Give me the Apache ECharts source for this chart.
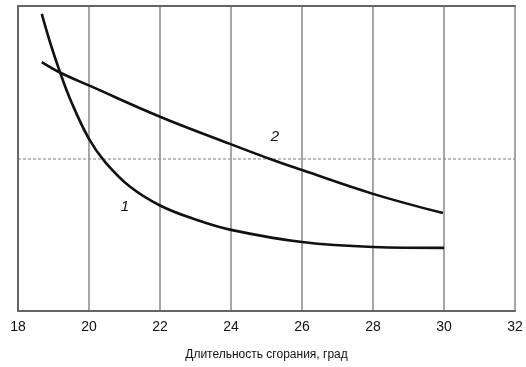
<!DOCTYPE html>
<html>
<head>
<meta charset="utf-8">
<script src="https://cdn.jsdelivr.net/npm/echarts@6/dist/echarts.min.js"></script>
<style>
html,body{margin:0;padding:0;background:#fff;}
#c{width:526px;height:367px;}
</style>
</head>
<body>
<div id="c"></div>
<script>
// x-axis ticks
const xTicks = [18, 20, 22, 24, 26, 28, 30, 32];
const xAxisName = 'Длительность сгорания, град';
// curve 1 (x, y in relative units 0..100)
const curve1X = [18.67, 18.9, 19.18, 19.5, 20.0, 20.45, 21.15, 22.0, 23.0, 24.0, 26.0, 28.0, 30.0];
const curve1Y = [97.4, 88.2, 78.4, 68.6, 56.4, 48.9, 40.8, 34.6, 30.0, 26.6, 22.6, 21.0, 20.7];
// curve 2
const curve2X = [18.67, 19.18, 20.03, 22.0, 23.97, 25.18, 26.0, 28.0, 29.97];
const curve2Y = [81.6, 78.2, 73.8, 63.7, 54.8, 49.5, 46.2, 38.4, 32.1];
// curve labels
const labelNames = ['1', '2'];
const labelPos = [[21.01, 34.1], [25.24, 57.0]];

const zip = (xs, ys) => xs.map((x, i) => [x, ys[i]]);

const chart = echarts.init(document.getElementById('c'), null, {renderer: 'canvas'});
chart.setOption({
  animation: false,
  backgroundColor: '#fff',
  grid: {left: 18, right: 11, top: 6, bottom: 56},
  xAxis: [{
    type: 'value', min: xTicks[0], max: xTicks[xTicks.length - 1], interval: 2,
    name: xAxisName, nameLocation: 'middle', nameGap: 38,
    nameTextStyle: {fontFamily: 'Liberation Sans', fontSize: 12, color: '#111'},
    axisLine: {show: true, lineStyle: {color: '#666', width: 2}},
    axisTick: {show: false},
    axisLabel: {fontFamily: 'Liberation Sans', fontSize: 14, color: '#111', margin: 9},
    splitLine: {show: true, lineStyle: {color: '#888', width: 1.5}}
  }, {
    type: 'value', position: 'top', min: xTicks[0], max: xTicks[xTicks.length - 1],
    axisLine: {show: true, lineStyle: {color: '#666', width: 2}},
    axisTick: {show: false}, axisLabel: {show: false}, splitLine: {show: false}
  }],
  yAxis: {
    type: 'value', min: 0, max: 100, interval: 50,
    axisLine: {show: true, lineStyle: {color: '#666', width: 2}},
    axisTick: {show: false}, axisLabel: {show: false},
    splitLine: {show: true, lineStyle: {color: '#aaa', width: 1.5, type: [3, 2]}}
  },
  series: [{
    type: 'line', data: zip(curve1X, curve1Y), smooth: 0.4, symbol: 'none',
    lineStyle: {color: '#111', width: 2.6},
    markPoint: {
      symbol: 'circle', symbolSize: 0,
      label: {show: true, position: 'inside', formatter: '{b}', fontFamily: 'Liberation Sans', fontStyle: 'italic', fontSize: 15, color: '#111'},
      data: [{name: labelNames[0], coord: labelPos[0]}]
    }
  }, {
    type: 'line', data: zip(curve2X, curve2Y), smooth: 0.4, symbol: 'none',
    lineStyle: {color: '#111', width: 2.6},
    markPoint: {
      symbol: 'circle', symbolSize: 0,
      label: {show: true, position: 'inside', formatter: '{b}', fontFamily: 'Liberation Sans', fontStyle: 'italic', fontSize: 15, color: '#111'},
      data: [{name: labelNames[1], coord: labelPos[1]}]
    }
  }]
});
</script>
</body>
</html>
